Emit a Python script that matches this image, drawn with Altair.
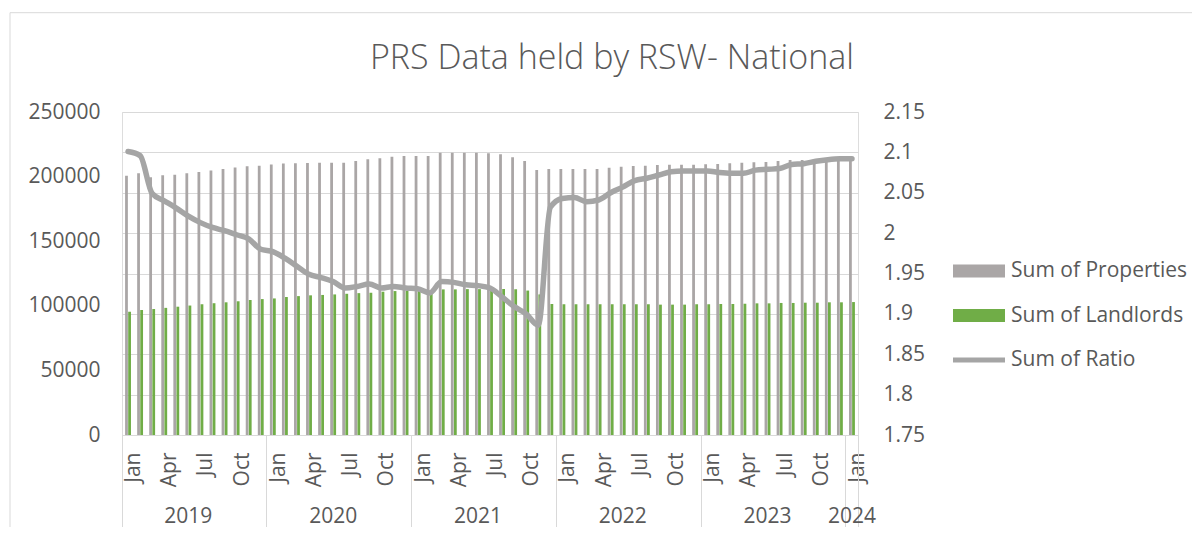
import altair as alt
import pandas as pd

# ---------------- data ----------------
periods = [f"{y}-{m:02d}" for y in range(2019, 2024) for m in range(1, 13)] + ["2024-01"]

properties = [
    200700, 202600, 199500, 201000, 201400, 202500, 203500, 204700, 205800, 207000, 208100, 208400,
    209300, 210100, 210400, 210500, 210700, 210700, 210700, 212000, 213400, 214200, 215400, 216000,
    216000, 216000, 218500, 218500, 218500, 218500, 218000, 217300, 214900, 212100, 205100, 205900,
    205900, 205900, 205900, 205900, 206900, 207700, 208200, 208400, 209000, 209200, 209200, 209200,
    209500, 209700, 210300, 210800, 211100, 211300, 212100, 212900, 212900, 212900, 213400, 213600,
    213900,
]
landlords = [
    95400, 96750, 97500, 98400, 99300, 100200, 101200, 102000, 102700, 103500, 104500, 105200,
    105700, 106800, 107500, 108100, 108400, 108800, 109300, 109800, 110100, 110900, 111400, 111800,
    111900, 112200, 112700, 112700, 112900, 112900, 112800, 113000, 112800, 111800, 108800, 101400,
    101200, 101200, 101200, 101200, 101200, 101200, 101200, 101200, 100900, 100900, 100900, 101200,
    101200, 101400, 101400, 101600, 101900, 101900, 102200, 102200, 102400, 102400, 102700, 102700,
    102900,
]
ratio = [
    2.101, 2.096, 2.049, 2.040, 2.031, 2.021, 2.013, 2.007, 2.003, 1.998, 1.993, 1.980,
    1.977, 1.969, 1.959, 1.949, 1.945, 1.940, 1.932, 1.934, 1.937, 1.932, 1.934, 1.932,
    1.931, 1.926, 1.940, 1.939, 1.936, 1.935, 1.932, 1.921, 1.909, 1.900, 1.886, 2.032,
    2.043, 2.044, 2.039, 2.041, 2.050, 2.057, 2.065, 2.068, 2.072, 2.076, 2.077, 2.077,
    2.077, 2.075, 2.074, 2.074, 2.078, 2.079, 2.080, 2.085, 2.086, 2.089, 2.091, 2.092,
    2.092,
]

bar_series = ["Sum of Properties", "Sum of Landlords"]
legend_names = ["Sum of Properties", "Sum of Landlords", "Sum of Ratio"]
left_ticks = [0, 50000, 100000, 150000, 200000, 250000]
right_ticks = [1.75, 1.8, 1.85, 1.9, 1.95, 2.0, 2.05, 2.1, 2.15]
month_label_periods = [p for p in periods if p[5:] in ("01", "04", "07", "10")]
year_label_periods = [f"{y}-06" for y in range(2019, 2024)] + ["2024-01"]

df = pd.DataFrame({
    "period": periods,
    "Sum of Properties": properties,
    "Sum of Landlords": landlords,
    "ratio": ratio,
})
legend_df = pd.DataFrame({"series": legend_names})

# ---------------- style ----------------
FONT = "Open Sans"
TXT = "#595959"
GRID = "#D9D9D9"
BAR_GRAY = "#AAA6A6"
LINE_GRAY = "#A5A5A5"
GREEN = "#70AD47"
W, H = 736, 323

RECT = "M-1,-0.25L1,-0.25L1,0.25L-1,0.25Z"
LINE = "M-1,-0.1L1,-0.1L1,0.1L-1,0.1Z"

month_axis = alt.Axis(
    values=month_label_periods,
    bandPosition=0,
    labelExpr="['Jan','Feb','Mar','Apr','May','Jun','Jul','Aug','Sep','Oct','Nov','Dec'][toNumber(substring(datum.value,5,7))-1]",
    labelAngle=270, labelAlign="right", labelBaseline="middle",
    labelOffset=6.03, labelPadding=-83,
    labelFont=FONT, labelFontSize=21, labelColor=TXT,
    labelOverlap=False, labelFlush=False,
    tickSize=100, tickColor=GRID, tickWidth=1,
    tickOpacity={"condition": {"test": "substring(datum.value,5,7)=='01'", "value": 1}, "value": 0},
    domain=True, domainColor=GRID, domainWidth=1,
    grid=False, title=None, orient="bottom",
)

year_axis = alt.Axis(
    values=year_label_periods,
    bandPosition=1,
    labelExpr="substring(datum.value,0,4)",
    labelAngle=0, labelAlign="center", labelBaseline="middle",
    labelPadding=-18.5,
    labelFont=FONT, labelFontSize=21, labelColor=TXT,
    labelOverlap=False, labelFlush=False,
    tickSize=100, tickColor=GRID, tickWidth=1,
    tickOpacity={"condition": {"test": "datum.value=='2024-01'", "value": 1}, "value": 0},
    domain=False, grid=False, title=None, orient="bottom",
)

left_axis = alt.Axis(
    values=left_ticks, format="d", orient="left",
    labelFont=FONT, labelFontSize=21, labelColor=TXT, labelPadding=22,
    ticks=False, domain=False, grid=False, title=None,
)

right_axis = alt.Axis(
    values=right_ticks, format=".2~f", orient="right",
    labelFont=FONT, labelFontSize=21, labelColor=TXT, labelPadding=25,
    ticks=False, domain=False, grid=True, gridColor=GRID, gridWidth=1, title=None,
)

one_row = alt.Data(values=[{"k": 0}])
left_border = alt.Chart(one_row).mark_rule(color=GRID, strokeWidth=1).encode(
    x=alt.value(-112), y=alt.value(-99.3), y2=alt.value(H + 110)
)
top_border = alt.Chart(one_row).mark_rule(color=GRID, strokeWidth=1).encode(
    x=alt.value(-112), x2=alt.value(1100), y=alt.value(-99.3)
)

bars = alt.Chart(df).transform_fold(bar_series, as_=["series", "value"]).mark_bar().encode(
    x=alt.X("period:N", sort=periods, scale=alt.Scale(paddingInner=0, paddingOuter=0), axis=month_axis),
    xOffset=alt.XOffset("series:N", scale=alt.Scale(domain=bar_series, paddingInner=0.1, paddingOuter=1)),
    y=alt.Y("value:Q", scale=alt.Scale(domain=[0, 250000], nice=False), axis=left_axis),
    color=alt.Color("series:N", scale=alt.Scale(domain=bar_series, range=[BAR_GRAY, GREEN]), legend=None),
)

line = alt.Chart(df).mark_line(
    color=LINE_GRAY, strokeWidth=5.5, interpolate="monotone", strokeCap="round", strokeJoin="round"
).encode(
    x=alt.X("period:N", sort=periods, axis=year_axis),
    y=alt.Y("ratio:Q", scale=alt.Scale(domain=[1.75, 2.15], nice=False, zero=False), axis=right_axis),
)

leg_def = alt.Legend(
    title=None, orient="none", legendX=831, legendY=133, padding=0,
    symbolSize=2704, symbolStrokeWidth=0, symbolOpacity=1,
    labelFont=FONT, labelFontSize=21, labelColor=TXT, labelOffset=6, labelLimit=400,
    rowPadding=8.5,
)
legend_layer = alt.Chart(legend_df).transform_filter("false").mark_point(filled=True).encode(
    color=alt.Color("series:N", scale=alt.Scale(domain=legend_names, range=[BAR_GRAY, GREEN, LINE_GRAY]), legend=leg_def),
    shape=alt.Shape("series:N", scale=alt.Scale(domain=legend_names, range=[RECT, RECT, LINE]), legend=leg_def),
)

chart = alt.layer(left_border, top_border, bars, line, legend_layer).resolve_scale(
    y="independent", color="independent", shape="independent"
).resolve_legend(color="independent", shape="independent").resolve_axis(x="independent").properties(
    width=W, height=H,
    padding={"left": 114, "top": 104, "right": 334, "bottom": 92},
    autosize=alt.AutoSizeParams(type="none"),
    title=alt.TitleParams(
        "PRS Data held by RSW- National", font=FONT, fontSize=34, fontWeight=300,
        color=TXT, anchor="middle", frame="group", dx=122, offset=10, dy=74,
    ),
).configure_view(stroke=None).configure(background="white")

chart.save("out.html", embed_options={"renderer": "svg", "actions": False})
